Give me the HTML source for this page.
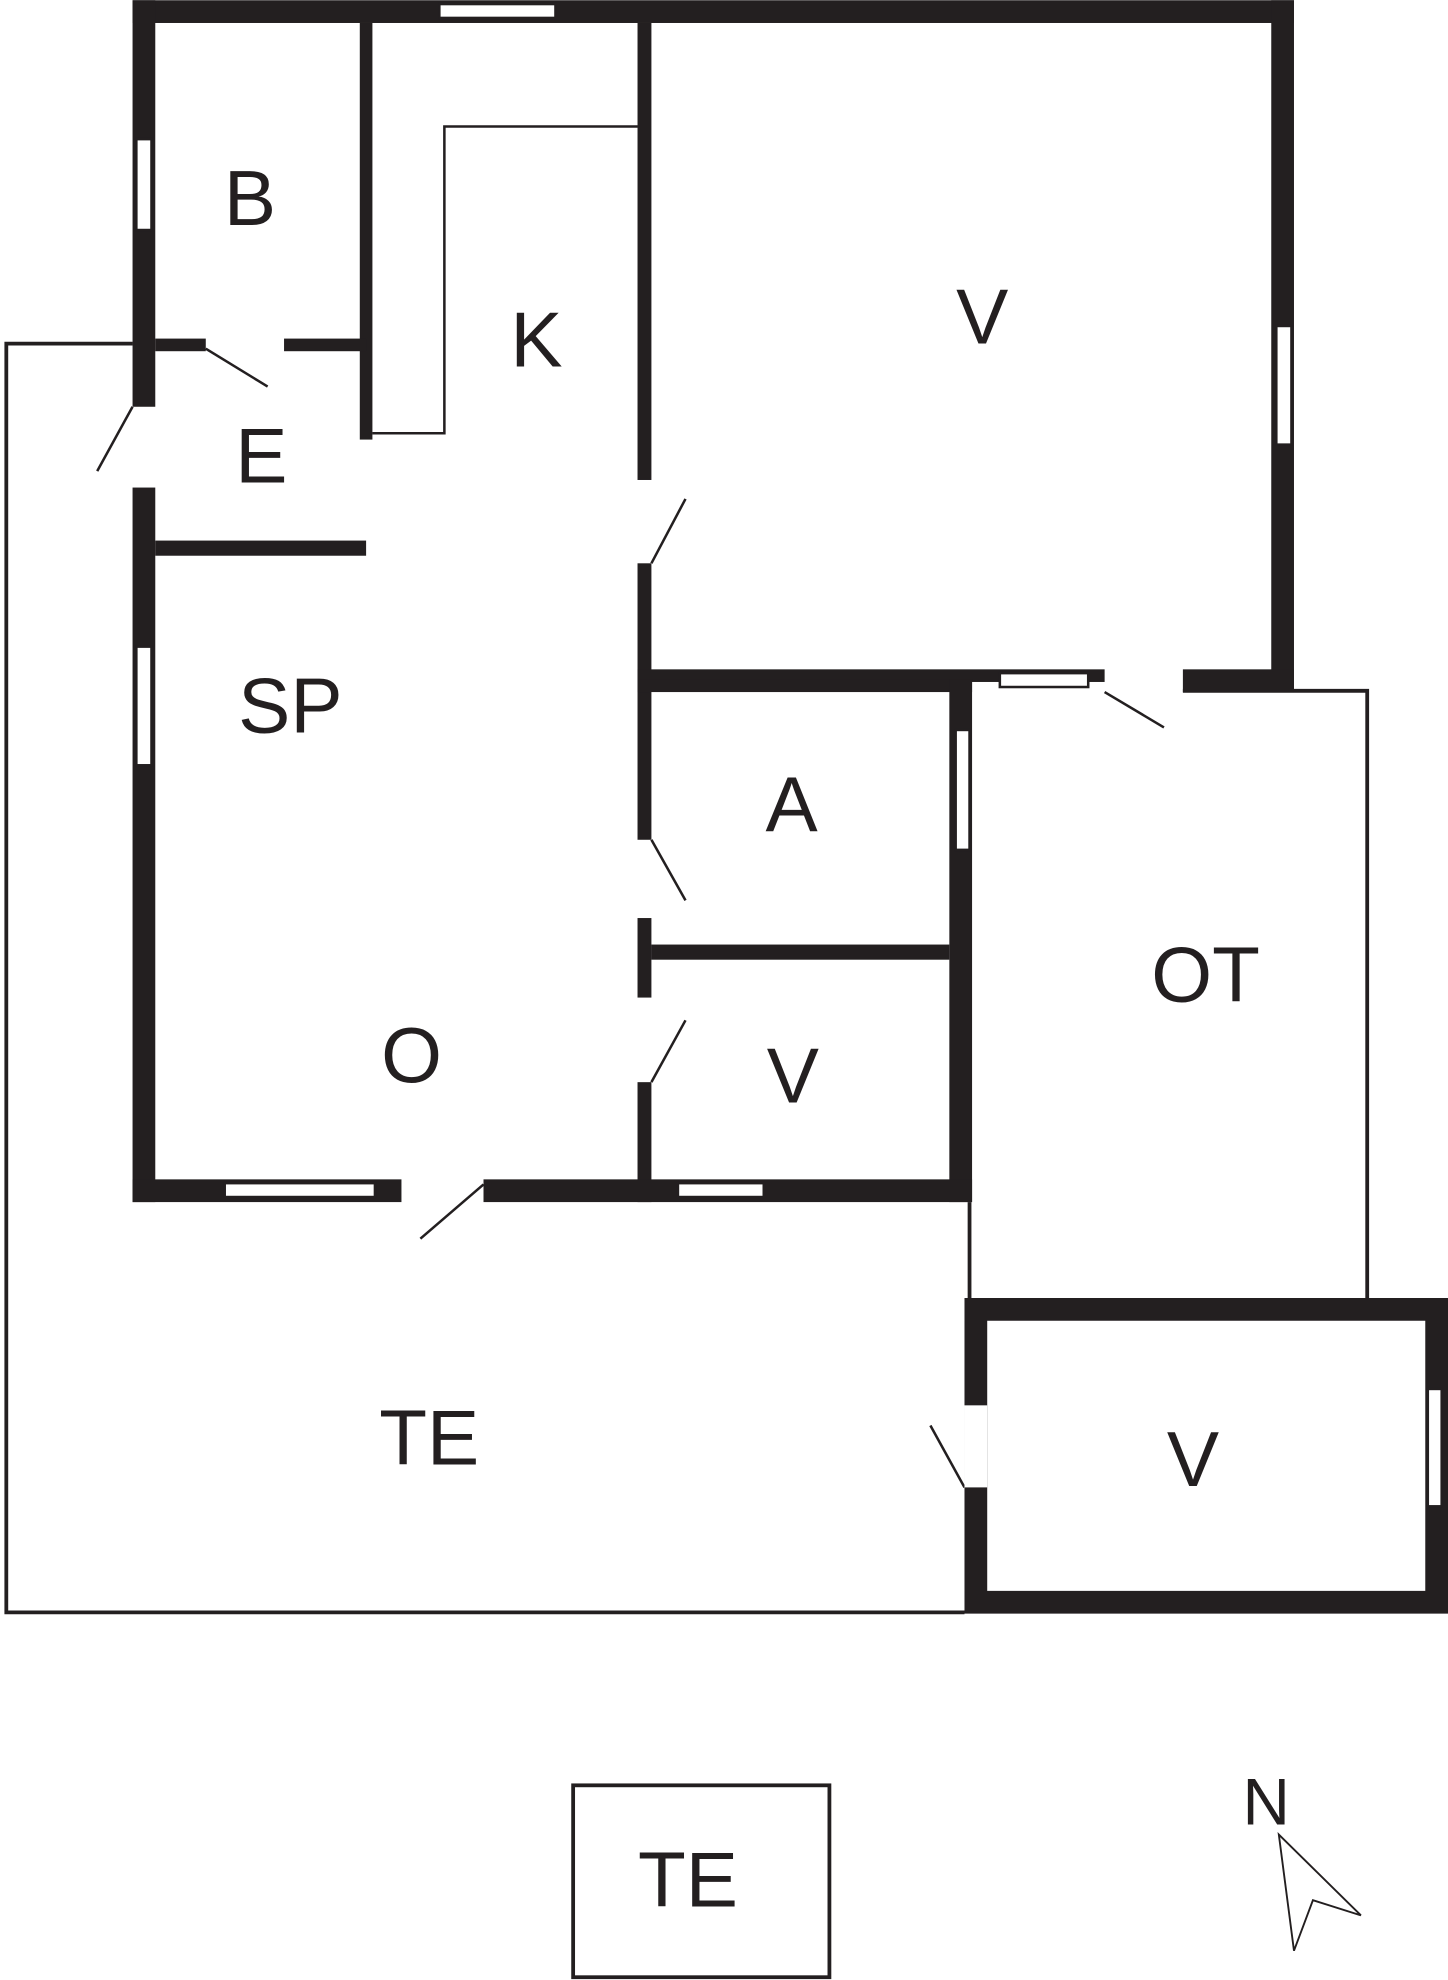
<!DOCTYPE html>
<html><head><meta charset="utf-8"><style>html,body{margin:0;padding:0;background:#fff}svg{display:block}</style></head>
<body>
<svg width="1448" height="1980" viewBox="0 0 1147 1568" xmlns="http://www.w3.org/2000/svg">
<rect width="1147" height="1568" fill="#fff"/>
<g fill="none" stroke="#231f20" stroke-width="3">
<polyline points="105,272 5,272 5,1277 764,1277"/>
<polyline points="937,547 1083,547 1083,1028"/>
<line x1="768" y1="952" x2="768" y2="1028"/>
<rect x="454" y="1414" width="203" height="152"/>
</g>
<g fill="none" stroke="#231f20" stroke-width="2">
<polyline points="295,343 352,343 352,100 505,100"/>
<line x1="105" y1="322" x2="77" y2="373"/>
<line x1="163" y1="276" x2="212" y2="306"/>
<line x1="516" y1="446" x2="543" y2="395"/>
<line x1="875" y1="548" x2="922" y2="576"/>
<line x1="516" y1="665" x2="543" y2="713"/>
<line x1="516" y1="857" x2="543" y2="808"/>
<line x1="383" y1="938" x2="333" y2="981"/>
<line x1="764" y1="1178" x2="737" y2="1129"/>
<polygon points="1013,1453 1078,1517 1040,1505 1025,1545" stroke-width="1.5"/>
</g>
<g fill="#231f20">
<rect x="105" y="0" width="920" height="18"/>
<rect x="105" y="0" width="18" height="322"/>
<rect x="105" y="386" width="18" height="566"/>
<rect x="1007" y="0" width="18" height="548"/>
<rect x="285" y="18" width="10" height="330"/>
<rect x="123" y="268" width="40" height="10"/>
<rect x="225" y="268" width="65" height="10"/>
<rect x="123" y="428" width="167" height="12"/>
<rect x="505" y="18" width="11" height="362"/>
<rect x="505" y="446" width="11" height="219"/>
<rect x="505" y="727" width="11" height="63"/>
<rect x="505" y="857" width="11" height="95"/>
<rect x="505" y="530" width="370" height="10"/>
<rect x="937" y="530" width="88" height="18"/>
<rect x="505" y="538" width="265" height="10"/>
<rect x="752" y="538" width="18" height="414"/>
<rect x="516" y="748" width="236" height="12"/>
<rect x="105" y="934" width="213" height="18"/>
<rect x="383" y="934" width="387" height="18"/>
<path d="M764,1028H1147V1278H764ZM782,1046V1260H1129V1046Z" fill-rule="evenodd"/>
</g>
<rect x="764" y="1113" width="18" height="65" fill="#fff"/>
<g fill="#fff" stroke="#231f20" stroke-width="2">
<rect x="348" y="3" width="92" height="11"/>
<rect x="108" y="110" width="12" height="72"/>
<rect x="108" y="512" width="12" height="94"/>
<rect x="1011" y="258" width="12" height="94"/>
<rect x="792" y="533" width="70" height="11"/>
<rect x="757" y="578" width="11" height="95"/>
<rect x="178" y="937" width="119" height="11"/>
<rect x="537" y="937" width="68" height="11"/>
<rect x="1131" y="1100" width="11" height="93"/>
</g>
<g font-family="Liberation Sans, sans-serif" font-size="62" fill="#231f20" text-anchor="middle">
<text x="198" y="178">B</text>
<text x="425" y="290">K</text>
<text x="778" y="272">V</text>
<text x="207" y="382">E</text>
<text x="230" y="580">SP</text>
<text x="627" y="658">A</text>
<text x="955" y="793">OT</text>
<text x="326" y="857">O</text>
<text x="628" y="873">V</text>
<text x="340" y="1160">TE</text>
<text x="945" y="1177">V</text>
<text x="545" y="1510">TE</text>
<text x="1003" y="1445" font-size="52">N</text>
</g>
</svg>
</body></html>
